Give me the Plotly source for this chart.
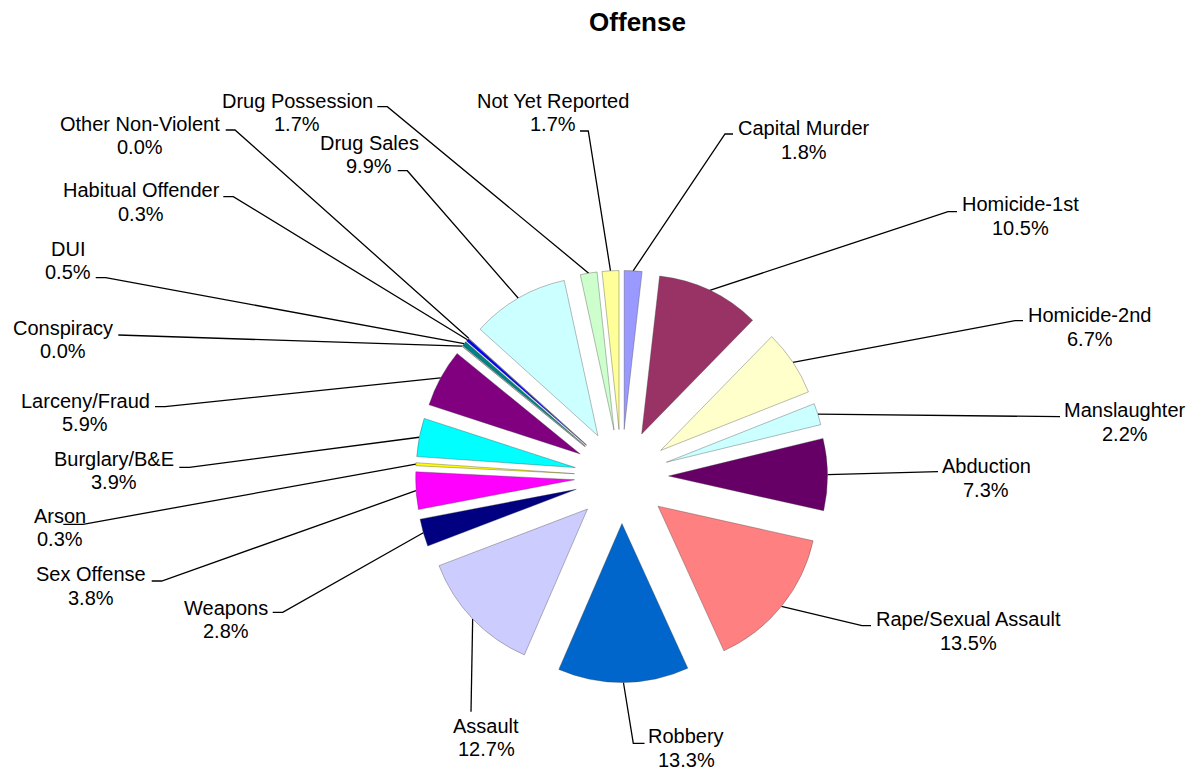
import math
import plotly.graph_objects as go

# ---------------- data ----------------
categories = ["Capital Murder", "Homicide-1st", "Homicide-2nd", "Manslaughter", "Abduction",
              "Rape/Sexual Assault", "Robbery", "Assault", "Weapons", "Sex Offense", "Arson",
              "Burglary/B&E", "Larceny/Fraud", "Conspiracy", "DUI", "Habitual Offender",
              "Other Non-Violent", "Drug Sales", "Drug Possession", "Not Yet Reported"]
# slice sizes as drawn (angular share)
values = [1.8, 10.5, 6.7, 2.2, 7.3, 14.7, 13.3, 12.7, 2.8, 3.8, 0.3,
          3.9, 5.9, 0.0, 0.5, 0.3, 0.0, 9.9, 1.7, 1.7]
# percentage labels as printed on the chart
pct_labels = ["1.8%", "10.5%", "6.7%", "2.2%", "7.3%", "13.5%", "13.3%", "12.7%", "2.8%",
              "3.8%", "0.3%", "3.9%", "5.9%", "0.0%", "0.5%", "0.3%", "0.0%", "9.9%",
              "1.7%", "1.7%"]

# ---------------- styles / layout ----------------
colors = ["#9999FF", "#993366", "#FFFFCC", "#CCFFFF", "#660066", "#FF8080", "#0066CC",
          "#CCCCFF", "#000080", "#FF00FF", "#FFFF00", "#00FFFF", "#800080", "#800000",
          "#008080", "#0000FF", "#00CCFF", "#CCFFFF", "#CCFFCC", "#FFFF99"]

W, H = 1190, 771
CX, CY, R_OUT = 621.5, 476.5, 206.0
PULL = 0.296
FONT = "Liberation Sans, Arial, sans-serif"
LINE_GAP = 23.5

# label placement: (text centre x, first-line centre y, elbow x, elbow y, tick end x or None)
label_layout = [
    (803.5, 128.0, 725.0, 134.0, 733.0),
    (1020.0, 204.0, 948.0, 211.7, 957.0),
    (1089.7, 315.0, 1015.0, 320.7, 1023.0),
    (1125.0, 410.0, 1052.0, 416.7, 1060.0),
    (986.0, 466.0, 930.0, 471.7, 938.0),
    (968.0, 619.0, 862.0, 625.7, 871.0),
    (686.0, 736.0, 633.3, 743.3, 644.5),
    (486.0, 725.5, 471.0, 711.7, None),
    (225.8, 607.5, 282.7, 612.3, 272.7),
    (91.3, 574.0, 161.7, 581.0, 151.7),
    (60.0, 515.8, 83.0, 524.3, 63.3),
    (114.0, 458.5, 189.3, 467.3, 179.3),
    (85.0, 400.8, 165.0, 406.7, 155.0),
    (63.3, 327.5, 128.0, 335.0, 118.3),
    (68.3, 248.5, 105.7, 277.7, 95.7),
    (141.0, 190.0, 233.3, 196.7, 223.3),
    (140.3, 123.5, 235.0, 130.0, 225.7),
    (369.0, 142.5, 407.3, 170.7, 397.7),
    (297.0, 100.5, 387.3, 106.7, 377.3),
    (553.0, 100.5, 588.3, 131.0, 580.0),
]

# ---------------- figure ----------------
fig = go.Figure()

fig.add_trace(go.Pie(
    labels=categories,
    values=values,
    sort=False,
    direction="clockwise",
    rotation=0,
    pull=[PULL] * len(values),
    marker=dict(colors=colors, line=dict(color="rgba(60,60,60,0.35)", width=1)),
    textinfo="none",
    hoverinfo="label",
    showlegend=False,
    domain=dict(x=[(CX - R_OUT) / W, (CX + R_OUT) / W],
                y=[1 - (CY + R_OUT) / H, 1 - (CY - R_OUT) / H]),
))

# leader lines: from outer-arc midpoint of each slice to the label
total = sum(values)
lx, ly = [], []
annotations = []
cum = 0.0
for name, v, pct, lay in zip(categories, values, pct_labels, label_layout):
    mid = (cum + v / 2.0) / total * 2 * math.pi
    cum += v
    ax = CX + R_OUT * math.sin(mid)
    ay = CY - R_OUT * math.cos(mid)
    tx, ty, ex, ey, kx = lay
    lx += [ax, ex]
    ly += [ay, ey]
    if kx is not None:
        lx += [kx]
        ly += [ey]
    lx.append(None)
    ly.append(None)
    annotations.append(dict(x=tx, y=ty, xref="x", yref="y", text=name, showarrow=False,
                            xanchor="center", yanchor="middle",
                            font=dict(family=FONT, size=20, color="#000000")))
    annotations.append(dict(x=tx, y=ty + LINE_GAP, xref="x", yref="y", text=pct, showarrow=False,
                            xanchor="center", yanchor="middle",
                            font=dict(family=FONT, size=20, color="#000000")))

fig.add_trace(go.Scatter(x=lx, y=ly, mode="lines", line=dict(color="#000000", width=1.3),
                         hoverinfo="skip", showlegend=False))

fig.update_layout(
    width=W, height=H,
    margin=dict(l=0, r=0, t=0, b=0),
    paper_bgcolor="white", plot_bgcolor="rgba(0,0,0,0)",
    xaxis=dict(range=[0, W], visible=False, fixedrange=True),
    yaxis=dict(range=[H, 0], visible=False, fixedrange=True),
    title=dict(text="<b>Offense</b>", x=637.5 / W, xanchor="center",
               y=1 - 22 / H, yanchor="middle", yref="container",
               font=dict(family=FONT, size=26, color="#000000")),
    annotations=annotations,
)

fig.write_html("out.html")
